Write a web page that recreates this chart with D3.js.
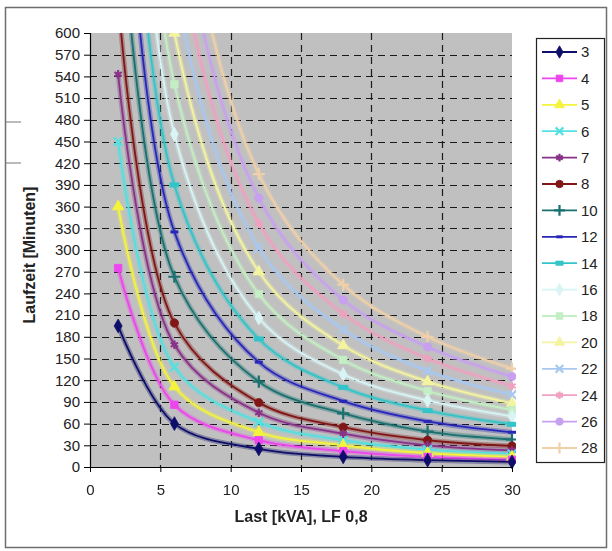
<!DOCTYPE html>
<html>
<head>
<meta charset="utf-8">
<script src="https://cdn.jsdelivr.net/npm/d3@7"></script>
<style>
  html, body { margin: 0; padding: 0; background: #fff; }
  svg { display: block; font-family: "Liberation Sans", Arial, sans-serif; }
</style>
</head>
<body>
<svg id="chart" width="612" height="551"></svg>
<script>
// ---- data ----
const loads = [2, 6, 12, 18, 24, 30];           // Last [kVA]
const seriesNames = ["3","4","5","6","7","8","10","12","14","16","18","20","22","24","26","28"];
const s3  = [195,  60,  25,  14, 9.5,   7];
const s4  = [275,  86,  37,  22,  14,  10];
const s5  = [360, 111,  48,  30,  19,  14];
const s6  = [450, 138,  62,  37,  24,  18];
const s7  = [543, 169,  75,  46,  30,  23];
const s8  = [650, 199,  89,  55,  37,  29];
const s10 = [830, 263, 118,  74,  49,  38];
const s12 = [1020, 325, 145, 91,  63,  48];
const s14 = [1220, 390, 177, 110, 78,  59];
const s16 = [1420, 460, 206, 128, 92,  70];
const s18 = [1620, 529, 239, 148, 105, 79];
const s20 = [1820, 600, 270, 168, 118, 88];
const s22 = [2020, 670, 303, 190, 133, 100];
const s24 = [2220, 745, 337, 212, 150, 112];
const s26 = [2420, 820, 372, 231, 166, 125];
const s28 = [2620, 895, 405, 252, 180, 136];
const seriesValues = [s3,s4,s5,s6,s7,s8,s10,s12,s14,s16,s18,s20,s22,s24,s26,s28];
const xTicks = [0, 5, 10, 15, 20, 25, 30];
const yTicks = d3.range(0, 601, 30);
const xTitle = "Last [kVA], LF 0,8";
const yTitle = "Laufzeit [Minuten]";

// ---- styles ----
const colors = ["#10106a","#ee44ee","#f4f43c","#55e0e0","#883388","#801818","#1a7070","#2828b8",
                "#33c4c8","#d8f4f4","#c4eec4","#f4f4a0","#a8c8f0","#f0a0c0","#c8a0f0","#f0d0a8"];
const markers = ["diamond","square","triangle","times","asterisk","circle","plus","dash",
                 "wdash","diamond","square","triangle","times","asterisk","circle","plus"];

const svg = d3.select("#chart");
const plot = {left: 90, right: 512, top: 33, bottom: 467};

const x = d3.scaleLinear().domain([0, 30]).range([plot.left, plot.right]);
const y = d3.scaleLinear().domain([0, 600]).range([plot.bottom, plot.top]);

// outer border
svg.append("rect").attr("x", 5.5).attr("y", 7.5).attr("width", 601).attr("height", 540)
  .attr("fill", "#fff").attr("stroke", "#6e6e6e").attr("stroke-width", 1.5);

// stray ticks at the left edge
[122, 163].forEach(v => svg.append("line").attr("x1", 5).attr("x2", 21).attr("y1", v).attr("y2", v)
  .attr("stroke", "#777").attr("stroke-width", 1));

// plot area
svg.append("rect").attr("x", plot.left).attr("y", plot.top)
  .attr("width", plot.right - plot.left).attr("height", plot.bottom - plot.top)
  .attr("fill", "#c0c0c0");

// grid
const grid = svg.append("g").attr("stroke", "#1a1a1a").attr("stroke-width", 1.2).attr("stroke-dasharray", "7,5");
yTicks.filter(t => t > 0 && t < 600).forEach(t => grid.append("line")
  .attr("x1", plot.left).attr("x2", plot.right).attr("y1", Math.round(y(t)) + 0.5).attr("y2", Math.round(y(t)) + 0.5));
xTicks.filter(t => t > 0 && t < 30).forEach(t => grid.append("line")
  .attr("y1", plot.top).attr("y2", plot.bottom).attr("x1", Math.round(x(t)) + 0.5).attr("x2", Math.round(x(t)) + 0.5));

// clip + soft filter
const defs = svg.append("defs");
defs.append("clipPath").attr("id", "clip").append("rect")
  .attr("x", plot.left).attr("y", plot.top).attr("width", plot.right - plot.left + 4).attr("height", plot.bottom - plot.top + 4);
defs.append("filter").attr("id", "soft").append("feGaussianBlur").attr("stdDeviation", 0.6);

const line = d3.line().x((d, i) => x(loads[i])).y(d => y(d)).curve(d3.curveCatmullRom.alpha(0.5));

const lines = svg.append("g").attr("clip-path", "url(#clip)");
for (let k = seriesValues.length - 1; k >= 0; k--) {
  const g = lines.append("g").attr("filter", "url(#soft)");
  g.append("path").attr("d", line(seriesValues[k])).attr("fill", "none")
    .attr("stroke", colors[k]).attr("stroke-width", 5).attr("opacity", 0.35);
  g.append("path").attr("d", line(seriesValues[k])).attr("fill", "none")
    .attr("stroke", colors[k]).attr("stroke-width", 1.8);
}

function drawMarker(g, type, cx, cy, color, scale) {
  const s = scale || 1;
  const filled = {diamond: d3.symbolDiamond, square: d3.symbolSquare, triangle: d3.symbolTriangle, circle: d3.symbolCircle};
  const stroked = {times: d3.symbolTimes, asterisk: d3.symbolAsterisk, plus: d3.symbolPlus};
  if (filled[type]) {
    g.append("path").attr("d", d3.symbol().type(filled[type]).size(55 * s)())
      .attr("transform", `translate(${cx},${cy})`).attr("fill", color).attr("stroke", color).attr("stroke-width", 0.8);
  } else if (stroked[type]) {
    g.append("path").attr("d", d3.symbol().type(stroked[type]).size(50 * s)())
      .attr("transform", `translate(${cx},${cy})`).attr("fill", "none").attr("stroke", color).attr("stroke-width", 2.2);
  } else if (type === "dash") {
    g.append("rect").attr("x", cx - 4 * s).attr("y", cy - 1.5).attr("width", 8 * s).attr("height", 3).attr("fill", color);
  } else if (type === "wdash") {
    g.append("rect").attr("x", cx - 5 * s).attr("y", cy - 2.5).attr("width", 10 * s).attr("height", 5).attr("fill", color);
  }
}

const mk = svg.append("g").attr("clip-path", "url(#clip)").attr("filter", "url(#soft)");
for (let k = seriesValues.length - 1; k >= 0; k--) {
  seriesValues[k].forEach((v, i) => {
    if (v <= 600) drawMarker(mk, markers[k], x(loads[i]), y(v), colors[k]);
  });
}

// axes
const yAxis = d3.axisLeft(y).tickValues(yTicks).tickSize(6).tickPadding(4);
const xAxis = d3.axisBottom(x).tickValues(xTicks).tickSize(5).tickPadding(12);
const gy = svg.append("g").attr("transform", `translate(${plot.left},0)`).call(yAxis);
const gx = svg.append("g").attr("transform", `translate(0,${plot.bottom})`).call(xAxis);
[gx, gy].forEach(g => {
  g.select(".domain").attr("stroke", "#000").attr("stroke-width", 1.2);
  g.selectAll(".tick line").attr("stroke", "#000");
  g.selectAll("text").attr("font-size", 15).attr("fill", "#222")
    .attr("font-family", '"Liberation Sans", Arial, sans-serif');
});
gy.select(".domain").attr("d", `M0.5,${plot.top}V${plot.bottom}`);
gx.select(".domain").attr("d", `M${plot.left},0.5H${plot.right}`);

// titles
svg.append("text").attr("x", 301).attr("y", 522).attr("text-anchor", "middle")
  .attr("font-size", 16).attr("font-weight", "bold").attr("fill", "#222").text(xTitle);
svg.append("text").attr("transform", "translate(35,255) rotate(-90)").attr("text-anchor", "middle")
  .attr("font-size", 16).attr("font-weight", "bold").attr("fill", "#222").text(yTitle);

// legend
const lg = svg.append("g");
lg.append("rect").attr("x", 536.5).attr("y", 38.5).attr("width", 68).attr("height", 424)
  .attr("fill", "#fff").attr("stroke", "#222").attr("stroke-width", 1.2);
seriesNames.forEach((name, k) => {
  const cy = 52 + k * 26.4;
  lg.append("line").attr("x1", 542).attr("x2", 577).attr("y1", cy).attr("y2", cy)
    .attr("stroke", colors[k]).attr("stroke-width", 1.8);
  drawMarker(lg, markers[k], 559.5, cy, colors[k], 0.8);
  lg.append("text").attr("x", 581).attr("y", cy).attr("dy", "0.36em")
    .attr("font-size", 15).attr("fill", "#222").text(name);
});
</script>
</body>
</html>
